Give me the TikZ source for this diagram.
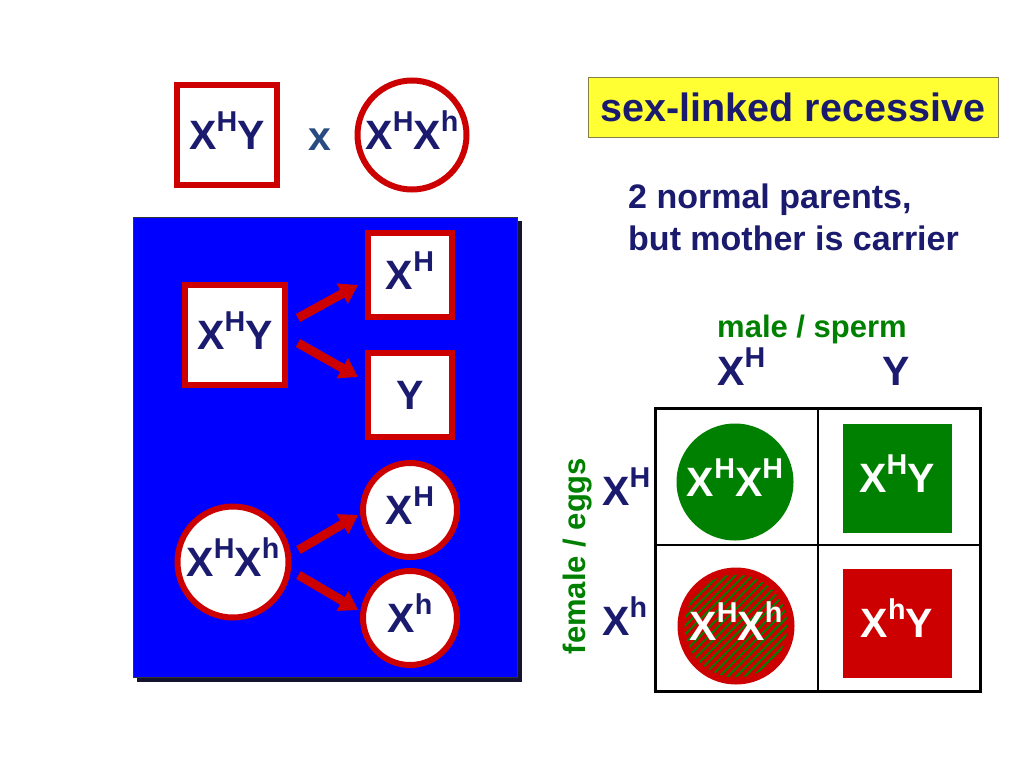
\documentclass[tikz,border=0pt]{standalone}
\usepackage{fontspec}
\setmainfont{Liberation Sans}
\usepackage{tikz}
\usetikzlibrary{arrows.meta,shadows,patterns.meta}
\definecolor{inkblue}{RGB}{26,26,110}
\definecolor{crossblue}{RGB}{40,75,130}
\definecolor{cred}{RGB}{204,0,0}
\definecolor{cgreen}{RGB}{0,128,0}
\definecolor{pblue}{RGB}{0,0,255}
\definecolor{titleyellow}{RGB}{255,255,51}
\definecolor{shadownavy}{RGB}{20,20,50}
\newcommand{\allele}[1]{\raisebox{.42em}[0pt][0pt]{\scalebox{.7}{#1}}}
\tikzset{>={Triangle[length=18pt,width=22pt]}}
\tikzset{
  geno/.style={font=\bfseries\fontsize{41}{48}\selectfont,text=inkblue,inner sep=0pt},
  malebox/.style={geno,shape=rectangle,draw=cred,line width=6pt,fill=white},
  femalering/.style={geno,shape=circle,draw=cred,line width=6pt,fill=white},
  cellgeno/.style={geno,text=white},
  label/.style={font=\bfseries\fontsize{31}{36}\selectfont,text=cgreen,inner sep=0pt},
  gamarrow/.style={->,draw=cred,line width=9pt}
}

\begin{document}
\begin{tikzpicture}[x=1pt,y=-1pt]

\useasboundingbox (0,0) rectangle (1024,768);
\fill[white] (0,0) rectangle (1024,768);

% parents
\path (227,135) node [malebox,minimum size=100pt] (father) {X\allele{H}Y};
\path (320,140) node [geno,text=crossblue] (cross) {x};
\path (412,135) node [femalering,minimum size=109pt] (mother) {X\allele{H}X\allele{h}};

% title and note
\path (793,107) node [shape=rectangle,fill=titleyellow,draw=yellow!45!black,line width=1pt,minimum width=410pt,minimum height=60pt,font=\bfseries\fontsize{39.5}{44}\selectfont,text=inkblue] (title) {sex-linked recessive};
\path (628,208) node [anchor=base west,font=\bfseries\fontsize{34}{40}\selectfont,text=inkblue,inner sep=0pt] (note1) {2 normal parents,};
\path (628,250) node [anchor=base west,font=\bfseries\fontsize{34}{40}\selectfont,text=inkblue,inner sep=0pt] (note2) {but mother is carrier};

% gametes panel
\path (325,447) node [shape=rectangle,fill=pblue,draw=black!80,line width=1pt,minimum width=384pt,minimum height=460pt,copy shadow={shadow xshift=4pt,shadow yshift=-4pt,fill=shadownavy,draw=shadownavy}] (panel) {};

\path (235,335) node [malebox,minimum size=100pt] (pXY) {X\allele{H}Y};
\path (410,275) node [malebox,minimum size=84pt] (spermH) {X\allele{H}};
\path (410,395) node [malebox,minimum size=84pt] (spermY) {Y};
\path (233,562) node [femalering,minimum size=111pt] (pXX) {X\allele{H}X\allele{h}};
\path (410,510) node [femalering,minimum size=94pt] (eggH) {X\allele{H}};
\path (410,618) node [femalering,minimum size=94pt] (eggh) {X\allele{h}};

\draw[gamarrow] ([shift={(10,-17)}]pXY.east) -- ([shift={(-7,10)}]spermH.west);
\draw[gamarrow] ([shift={(10,8)}]pXY.east) -- ([shift={(-7,-18)}]spermY.west);
\draw[gamarrow] ([shift={(7,-12)}]pXX.east) -- ([shift={(-2,5)}]eggH.west);
\draw[gamarrow] ([shift={(7,13)}]pXX.east) -- ([shift={(-2,-8)}]eggh.west);

% punnett square
\path (717,337) node [label,anchor=base west] (malelabel) {male / sperm};
\path (717,385) node [geno,anchor=base west] (colH) {X\allele{H}};
\path (882,385) node [geno,anchor=base west] (colY) {Y};
\path (578,556) node [label,rotate=90] (femalelabel) {female / eggs};
\path (602,505) node [geno,anchor=base west] (rowH) {X\allele{H}};
\path (602,635) node [geno,anchor=base west] (rowh) {X\allele{h}};

\draw[line width=3pt] (655,408) rectangle (980,691);
\draw[line width=1.5pt] (818,408) -- (818,691) (655,545) -- (980,545);

\path (735,482) node [cellgeno,shape=circle,fill=cgreen,minimum size=117pt] (dHH) {X\allele{H}X\allele{H}};
\path (897,478) node [cellgeno,shape=rectangle,fill=cgreen,minimum size=109pt] (sHY) {X\allele{H}Y};
\path (736,626) node [cellgeno,shape=circle,draw=cred,line width=7pt,preaction={fill=cred},pattern={Lines[angle=45,distance=6pt,line width=2pt]},pattern color=cgreen,minimum size=110pt] (dHh) {X\allele{H}X\allele{h}};
\path (897,623) node [cellgeno,shape=rectangle,fill=cred,minimum size=109pt] (shY) {X\allele{h}Y};

\end{tikzpicture}
\end{document}
